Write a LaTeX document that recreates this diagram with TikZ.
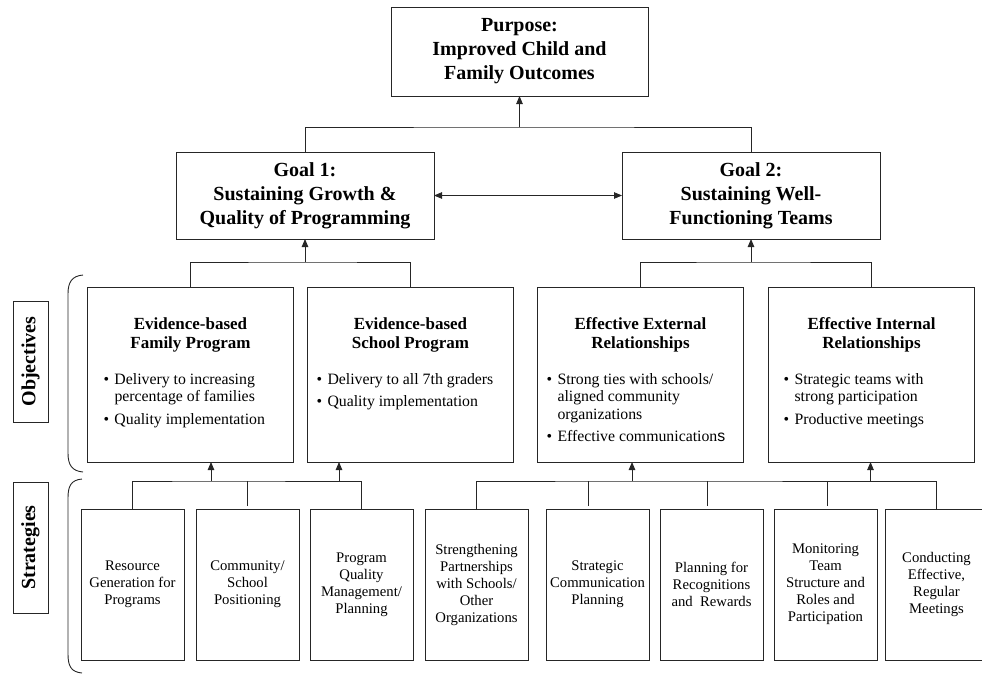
\documentclass[tikz,border=0pt]{standalone}
\usepackage{fontspec}
\setmainfont{Liberation Serif}
\setsansfont{Liberation Sans}
\usepackage{tikz}
\usetikzlibrary{arrows.meta,positioning}
\tikzset{
    %Define standard arrow tip
    >={Triangle[length=8pt,width=6.5pt]},
    %Define style for boxes
    goalbox/.style={
           rectangle,
           draw=black!85, line width=0.9pt,
           inner sep=0pt, outer sep=0pt,
           minimum width=258,
           minimum height=87,
           align=center,
           font=\fontsize{20}{24}\selectfont\bfseries},
    objbox/.style={
           rectangle,
           draw=black!85, line width=0.9pt,
           inner sep=0pt, outer sep=0pt},
    stratbox/.style={
           rectangle,
           draw=black!85, line width=0.9pt,
           inner sep=0pt, outer sep=0pt,
           minimum width=103,
           minimum height=151,
           align=center,
           font=\fontsize{14.7}{17}\selectfont},
    labelbox/.style={
           rectangle,
           draw=black!85, line width=0.9pt,
           rotate=90,
           inner sep=0pt,
           minimum height=35,
           font=\fontsize{20}{24}\selectfont\bfseries},
    % Define line styles
    bus/.style={
           draw=black!85,
           line width=0.9pt},
    sidebrace/.style={
           draw=black!85,
           line width=0.9pt}
}
% objective box contents: title, then bullet list
\newcommand{\objtext}[3][9pt]{\parbox[c][175pt][t]{206pt}{\vspace*{31pt}%
  \centering\fontsize{17}{18.5}\selectfont\bfseries #2\par\vspace{18.5pt}%
  \raggedright\leftskip=#1\relax\fontsize{15.8}{17.4}\selectfont\mdseries #3}}
\newcommand{\bitem}[1]{\par\hangindent=11pt\hangafter=1\noindent
  \makebox[11pt][l]{\textbullet}#1\par\vspace{5.3pt}}

\begin{document}
\begin{tikzpicture}[x=1pt,y=-1pt,node distance=12pt]
\useasboundingbox (0,0) rectangle (982,675);

 %purpose and goals
\node[goalbox, minimum width=257, minimum height=89] (purpose) at (519.5,51.5)
    {Purpose:\\Improved Child and\\Family Outcomes};
\node[goalbox] (g1) at (305,195.5) {Goal 1:\\Sustaining Growth \&\\Quality of Programming};
\node[goalbox, right=188pt of g1] (g2) {Goal 2:\\Sustaining Well-\\Functioning Teams};

 %objectives
\node[objbox] (o1) at (190.5,374.5) {\objtext[16pt]{Evidence-based\\Family Program}{%
    \bitem{Delivery to increasing\newline percentage of families}%
    \bitem{Quality implementation}}};
\node[objbox, right=14pt of o1] (o2) {\objtext[9pt]{Evidence-based\\School Program}{%
    \bitem{Delivery to all 7th graders}%
    \bitem{Quality implementation}}};
\node[objbox, right=24pt of o2] (o3) {\objtext[9pt]{Effective External\\Relationships}{%
    \bitem{Strong ties with schools/\newline aligned community\newline organizations}%
    \bitem{Effective communication\textsf{s}}}};
\node[objbox, right=25pt of o3] (o4) {\objtext[15pt]{Effective Internal\\Relationships}{%
    \bitem{Strategic teams with\newline strong participation}%
    \bitem{Productive meetings}}};

 %strategies
\node[stratbox] (sA) at (132.5,584.5) {Resource\\Generation for\\Programs};
\node[stratbox, right=of sA] (sB) {Community/\\School\\Positioning};
\node[stratbox, right=11pt of sB] (sC) {Program\\Quality\\Management/\\Planning};
\node[stratbox, right=of sC] (sD) {Strengthening\\Partnerships\\with Schools/\\Other\\Organizations};
\node[stratbox, right=18pt of sD] (sE) {Strategic\\Communication\\Planning};
\node[stratbox, right=11pt of sE] (sF) {Planning for\\Recognitions\\and~ Rewards};
\node[stratbox, right=11pt of sF] (sG) {Monitoring\\Team\\Structure and\\Roles and\\Participation};
\node[stratbox, right=8pt of sG] (sH) {Conducting\\Effective,\\Regular\\Meetings};

 %side labels
\node[labelbox, minimum width=121] (objlbl) at (30.5,361.5) {Objectives};
\node[labelbox, minimum width=131] (stratlbl) at (30.5,547.5) {Strategies};
\draw[sidebrace] (83,275) .. controls (72,276) and (68,282) .. (68,294) -- (68,453)
    .. controls (68,465) and (72,471) .. (83,472);
\draw[sidebrace] (82,479) .. controls (71,480) and (68,486) .. (68,498) -- (68,654)
    .. controls (68,666) and (71,672) .. (82,673);

 %goals to purpose
\coordinate (topbus) at (519.5,127);
\draw[bus] (g1.north) |- (topbus) -| (g2.north);
\draw[bus,->] (topbus) -- (purpose);
\draw[bus,<->] (g1) -- (g2);

 %objectives to goals
\coordinate (bus1) at (305,262);
\coordinate (bus2) at (751,262);
\draw[bus] (o1.north) |- (bus1) -| (o2.north);
\draw[bus,->] (bus1) -- (g1);
\draw[bus] (o3.north) |- (bus2) -| (o4.north);
\draw[bus,->] (bus2) -- (g2);

 %strategies to objectives
\coordinate (sbus1) at (211,481);
\coordinate (sbus2) at (339,481);
\coordinate (sbus3) at (632,481);
\coordinate (sbus4) at (870.5,481);
\draw[bus] (sA.north) |- (sbus1) -| (sC.north);
\draw[bus,shorten <=3pt] (sB.north) -- (sB.north |- sbus1);
\draw[bus,->] (sbus1) -- (sbus1 |- o1.south);
\draw[bus,->] (sbus2) -- (sbus2 |- o2.south);
\draw[bus] (sD.north) |- (sbus3) -| (sH.north);
\draw[bus,shorten <=3pt] ([xshift=-9pt]sE.north) -- ([xshift=-9pt]sE.north |- sbus3);
\draw[bus,shorten <=3pt] ([xshift=-4pt]sF.north) -- ([xshift=-4pt]sF.north |- sbus3);
\draw[bus,shorten <=3pt] ([xshift=2pt]sG.north) -- ([xshift=2pt]sG.north |- sbus3);
\draw[bus,->] (sbus3) -- (sbus3 |- o3.south);
\draw[bus,->] (sbus4) -- (sbus4 |- o4.south);

\end{tikzpicture}
\end{document}
